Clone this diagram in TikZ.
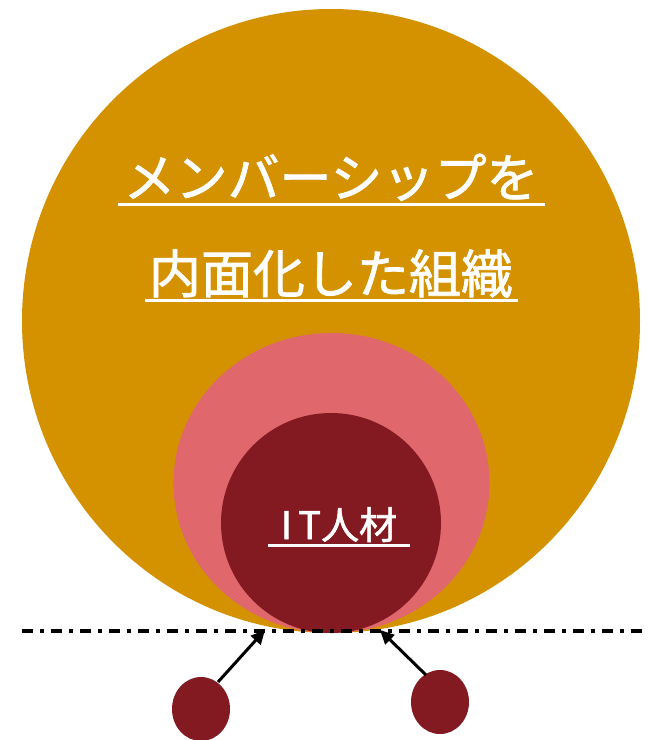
\documentclass[tikz,border=0pt]{standalone}
\usepackage{fontspec}
\newfontfamily\cjk[FakeBold=1.5]{Noto Sans CJK JP}
\usetikzlibrary{arrows.meta}
\definecolor{gold}{RGB}{212,145,0}
\definecolor{pinkc}{RGB}{224,103,108}
\definecolor{darkred}{RGB}{132,26,33}
\tikzset{
  lbl/.style={text=white,font=\cjk,inner sep=0pt,anchor=base},
  uline/.style={white,line width=3pt},
  ptr/.style={-{Triangle[length=14pt,width=13pt]},line width=3pt,black},
  dot/.style={fill=darkred,draw=none}
}
\begin{document}
\begin{tikzpicture}[x=1pt,y=-1pt]
\useasboundingbox (0,0) rectangle (648,740);
\fill[gold] (331,321) ellipse[x radius=309,y radius=312];
\fill[pinkc] (331.5,483) ellipse[x radius=158,y radius=150];
\fill[darkred] (331,523) circle[radius=110];
\node[lbl,font=\cjk\fontsize{52}{56}\selectfont] (t1) at (331,197) {メンバーシップを};
\node[lbl,font=\cjk\fontsize{52}{56}\selectfont] (t2) at (331,293) {内面化した組織};
\node[lbl,font=\cjk\fontsize{38}{42}\selectfont] (t3) at (339,539) {I\,T人材};
\draw[uline] (118,204) -- (545,204);
\draw[uline] (145,300) -- (518,300);
\draw[uline] (268,545) -- (410,545);
\draw[black,line width=4pt,dash pattern=on 11pt off 7pt on 4pt off 7pt] (22,631) -- (648,631);
\fill[dot] (201,709) ellipse[x radius=29,y radius=32] node (c1) {};
\fill[dot] (440,702) ellipse[x radius=29,y radius=32] node (c2) {};
\coordinate (a1) at (265,630);
\coordinate (a2) at (380,630);
\coordinate (s1) at (218,682);
\coordinate (s2) at (426,675);
\draw[ptr] (s1) -- (a1);
\draw[ptr] (s2) -- (a2);
\end{tikzpicture}
\end{document}
